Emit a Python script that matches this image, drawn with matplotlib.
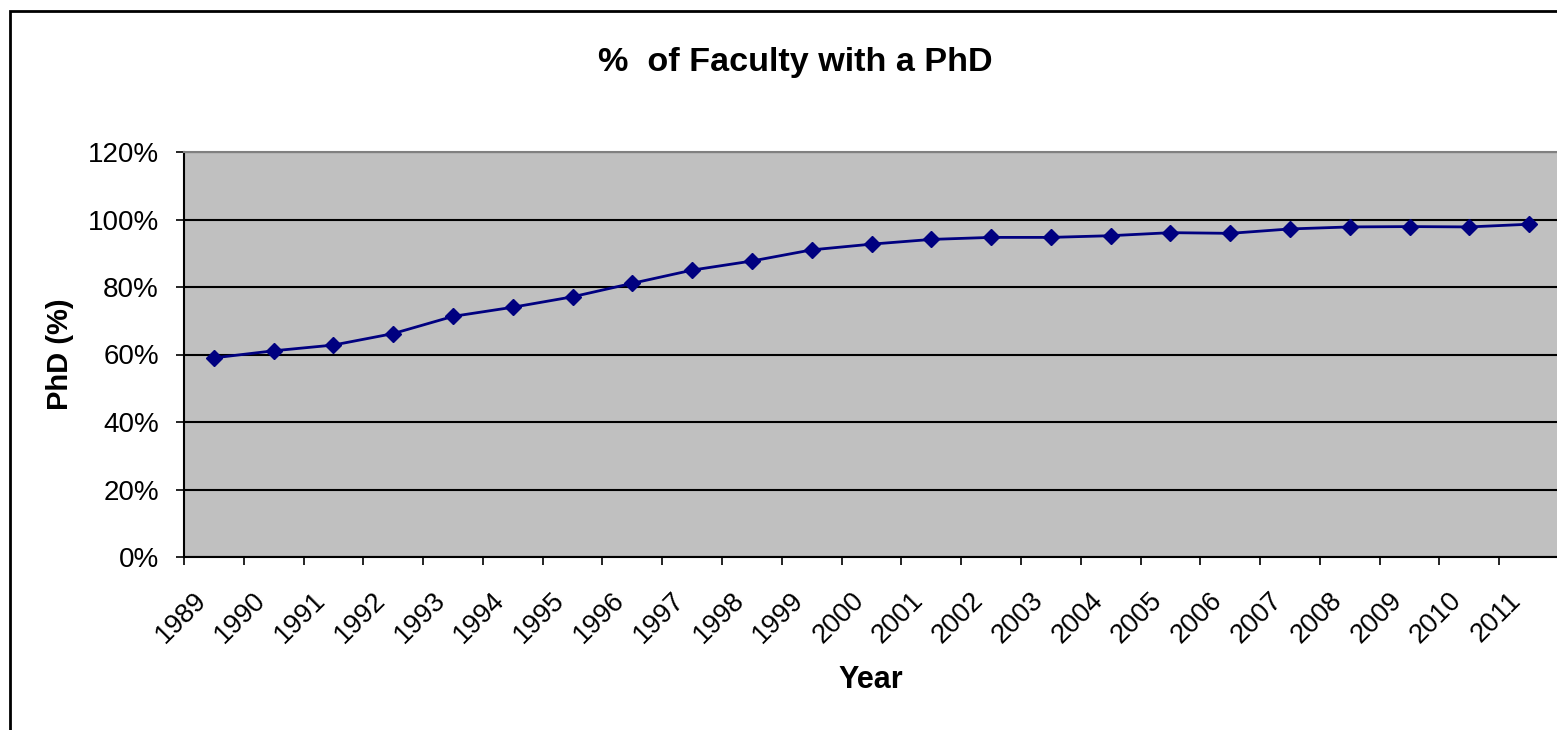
import numpy as np
import matplotlib
matplotlib.use('Agg')
import matplotlib.pyplot as plt
from matplotlib.ticker import PercentFormatter
from matplotlib.transforms import ScaledTranslation
from matplotlib.patches import Rectangle

# data
years = ['1989', '1990', '1991', '1992', '1993', '1994', '1995', '1996',
         '1997', '1998', '1999', '2000', '2001', '2002', '2003', '2004',
         '2005', '2006', '2007', '2008', '2009', '2010', '2011']
phd_pct = [59.0, 61.1, 62.8, 66.2, 71.3, 74.0, 77.1, 81.1,
           85.0, 87.7, 91.0, 92.7, 94.1, 94.7, 94.7, 95.2,
           96.1, 95.9, 97.2, 97.8, 97.9, 97.8, 98.6]
y_ticks = [0, 20, 40, 60, 80, 100, 120]

plt.rcParams['font.family'] = ['Liberation Sans', 'DejaVu Sans']

W, H = 1557, 730
fig = plt.figure(figsize=(W / 100, H / 100), dpi=100)
ax = fig.add_axes([184 / W, 1 - 557 / H, (1559 - 184) / W, (557 - 152) / H])

x = np.arange(len(years))
ax.set_facecolor('#C0C0C0')
ax.plot(x, phd_pct, color='#000080', linewidth=2, marker='D',
        markersize=8.5, zorder=3)

# y axis
ax.set_ylim(0, 120)
ax.set_yticks(y_ticks)
ax.yaxis.set_major_formatter(PercentFormatter(decimals=0))
ax.grid(axis='y', color='black', linewidth=1.5)
ax.set_axisbelow(True)
ax.tick_params(axis='y', labelsize=20, length=6, width=1.2, pad=12,
               direction='out')

# x axis: tick marks between categories, labels on categories
ax.set_xlim(-0.5, len(years) - 0.5)
ax.set_xticks(x)
ax.set_xticklabels(years, rotation=45, ha='right', rotation_mode='anchor')
ax.set_xticks(np.arange(len(years) + 1) - 0.5, minor=True)
ax.tick_params(axis='x', which='major', length=0, labelsize=19.5, pad=22)
ax.tick_params(axis='x', which='minor', length=6, width=1.2,
               direction='out')
offset = ScaledTranslation(-21 / 100, 0, fig.dpi_scale_trans)
for lab in ax.get_xticklabels():
    lab.set_transform(lab.get_transform() + offset)

for side in ['left', 'bottom']:
    ax.spines[side].set_color('black')
    ax.spines[side].set_linewidth(1.5)
for side in ['top', 'right']:
    ax.spines[side].set_color('#808080')
    ax.spines[side].set_linewidth(1.5)

# titles
fig.text(795 / W, 1 - 62 / H, '%  of Faculty with a PhD', ha='center',
         va='center', fontsize=24.6, fontweight='bold')
fig.text(60 / W, 1 - 354 / H, 'PhD (%)', ha='center', va='center',
         rotation=90, fontsize=21, fontweight='bold')
fig.text(871 / W, 1 - 680 / H, 'Year', ha='center', va='center',
         fontsize=22, fontweight='bold')

# outer chart frame (right and bottom edges fall outside the image)
fig.patches.append(Rectangle((10 / W, -0.1), 1.2, 1.1 - 11 / H,
                             transform=fig.transFigure, fill=False,
                             edgecolor='black', linewidth=2))

fig.savefig('out.png', dpi=100)
